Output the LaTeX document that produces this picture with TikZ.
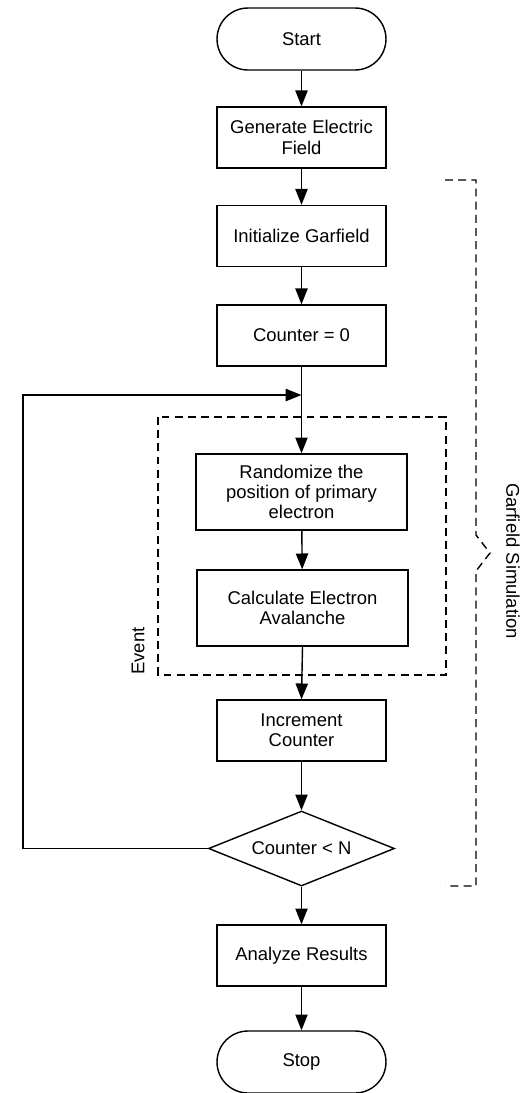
\documentclass[tikz,border=0pt]{standalone}
\usepackage{fontspec}
\setmainfont{Liberation Sans}
\usetikzlibrary{shapes.geometric}
\usetikzlibrary{arrows.meta}
\tikzset{>={Triangle[length=9pt,width=7pt]}}
\tikzstyle{box line}=[line width=0.8pt,draw=black]
\tikzstyle{label font}=[font=\fontsize{10.5}{11.6}\selectfont]
\tikzstyle{process}=[box line,label font,rectangle,minimum width=3.38cm,minimum height=1.22cm,align=center,inner sep=2pt]
\tikzstyle{wide process}=[process,minimum width=4.22cm,minimum height=1.52cm]
\tikzstyle{terminal}=[process,rounded corners=0.62cm,minimum height=1.24cm]
\tikzstyle{decision}=[box line,label font,diamond,aspect=2.5,minimum width=3.72cm,minimum height=1.5cm,inner sep=1pt]
\tikzstyle{flow line}=[line width=0.8pt,->]
\tikzstyle{group frame}=[line width=0.8pt,dash pattern=on 4.5pt off 3pt]

\begin{document}
\begin{tikzpicture}[x=0.02cm,y=-0.02cm]
	\def\cx{301.5} % column of the main flow
	\def\lx{23}    % x of the return line
	\def\ly{395}   % y where the return line comes in
	\useasboundingbox (0,0) rectangle (529,1093);

	% Steps
	\node[terminal] (start) at (\cx,39) {Start};
	\node[process] (field) at (\cx,137.5) {Generate Electric\\Field};
	\node[process] (init) at (\cx,236) {Initialize Garfield};
	\node[process] (zero) at (\cx,335.5) {Counter = 0};
	\node[wide process] (rand) at (\cx,492) {Randomize the\\position of primary\\electron};
	\node[wide process] (aval) at (302.5,608) {Calculate Electron\\Avalanche};
	\node[process] (incr) at (\cx,730.5) {Increment\\Counter};
	\node[decision] (test) at (\cx,848.5) {Counter < N};
	\node[process] (res) at (\cx,955.5) {Analyze Results};
	\node[terminal] (stop) at (\cx,1062) {Stop};

	% Arrows between steps
	\draw[flow line] (start) -- (field);
	\draw[flow line] (field) -- (init);
	\draw[flow line] (init) -- (zero);
	\draw[flow line] (zero) -- (rand);
	\draw[flow line] (rand) -- (aval);
	\draw[flow line] (aval.south) -- (incr.north);
	\draw[flow line] (incr) -- (test);
	\draw[flow line] (test) -- (res);
	\draw[flow line] (res) -- (stop);

	% Loop back
	\coordinate (J) at (\cx,\ly);
	\coordinate (L) at (\lx,\ly);
	\draw[flow line] (test.west) -| (L) -- (J);

	% Event frame
	\draw[group frame] (158,417) rectangle (446,675);
	\node[label font,rotate=90,anchor=south west,inner sep=0pt] (event) at (145,675) {Event};

	% Garfield brace
	\draw[group frame] (445,180) -- (476,180) -- (476,535) -- (490,553) -- (476,571) -- (476,886) -- (445,886);
	\node[label font,rotate=-90] (sim) at (513,561) {Garfield Simulation};
\end{tikzpicture}
\end{document}
